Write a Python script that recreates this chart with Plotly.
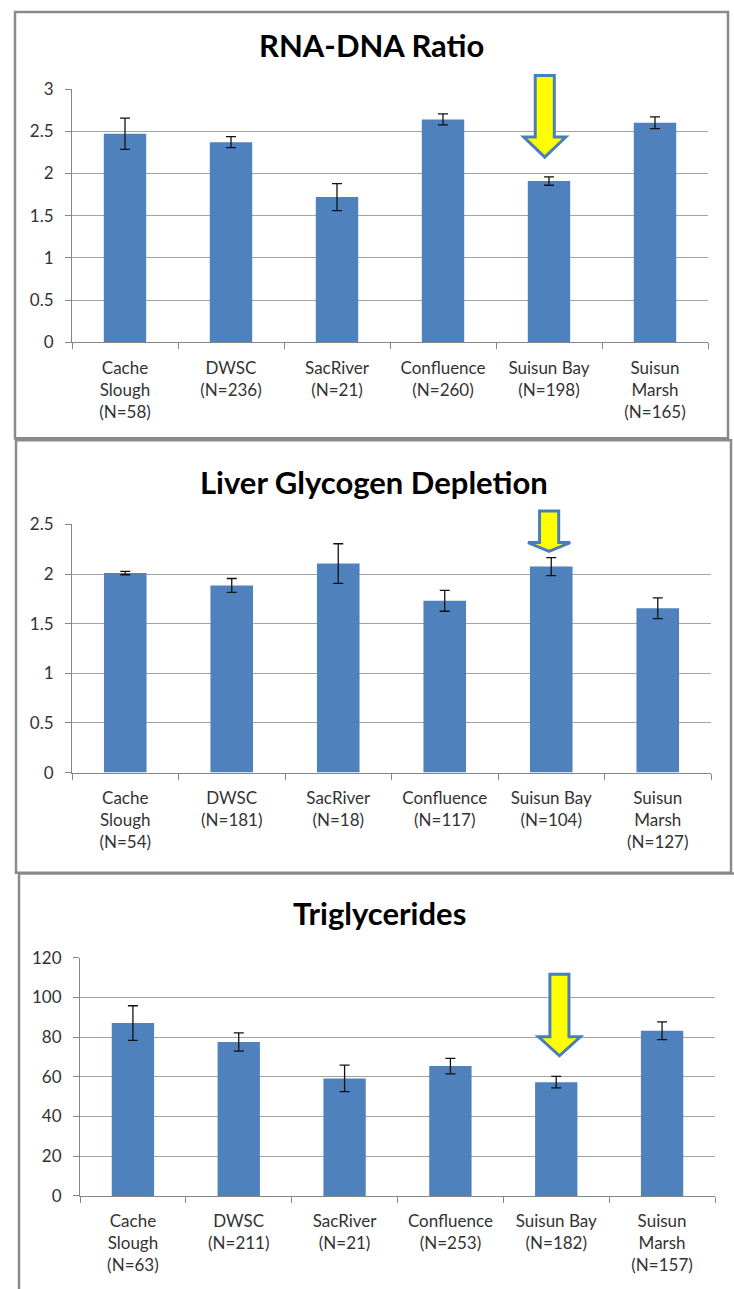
import plotly.graph_objects as go

# data
sites = ["Cache<br>Slough", "DWSC", "SacRiver", "Confluence", "Suisun Bay", "Suisun<br>Marsh"]

rna_n = [58, 236, 21, 260, 198, 165]
rna_mean = [2.47, 2.37, 1.72, 2.64, 1.91, 2.60]
rna_err = [0.185, 0.065, 0.16, 0.065, 0.05, 0.07]

glyc_n = [54, 181, 18, 117, 104, 127]
glyc_mean = [2.01, 1.885, 2.105, 1.73, 2.075, 1.655]
glyc_err = [0.017, 0.07, 0.2, 0.105, 0.09, 0.105]

trig_n = [63, 211, 21, 253, 182, 157]
trig_mean = [87.1, 77.5, 59.2, 65.4, 57.3, 83.2]
trig_err = [8.7, 4.6, 6.7, 3.9, 2.9, 4.5]

W, H = 734, 1289
FONT = "Lato"
BAR = "#4F81BD"
GRID = "#a3a3a3"
AXIS = "#868686"

panels = [
    dict(title="RNA-DNA Ratio", n=rna_n, mean=rna_mean, err=rna_err,
         yrange=[0, 3], dtick=0.5, plot=(72, 708, 79.3, 336.7),
         frame=(15, 728, 1, 434.4), title_y=34.6,
         arrow=(3.96, 1.053, 0.810, 0.731)),
    dict(title="Liver Glycogen Depletion", n=glyc_n, mean=glyc_mean, err=glyc_err,
         yrange=[0, 2.5], dtick=0.5, plot=(72, 711, 521.9, 774.2),
         frame=(16, 731, 436.4, 875.9), title_y=479.1,
         arrow=(3.98, 1.054, 0.927, 0.891)),
    dict(title="Triglycerides", n=trig_n, mean=trig_mean, err=trig_err,
         yrange=[0, 120], dtick=20, plot=(80, 715, 962.4, 1204.5),
         frame=(19, 745, 876.9, 1340), title_y=916.6,
         arrow=(4.03, 0.931, 0.668, 0.588)),
]


def arrow_path(xc, top, base, tip, shaft=0.09, head=0.198):
    return (f"M {xc - shaft},{top} L {xc + shaft},{top} L {xc + shaft},{base} "
            f"L {xc + head},{base} L {xc},{tip} L {xc - head},{base} "
            f"L {xc - shaft},{base} Z")


fig = go.Figure()
shapes = []
annotations = []
layout = {}

for i, p in enumerate(panels, start=1):
    xa = "x" if i == 1 else f"x{i}"
    ya = "y" if i == 1 else f"y{i}"
    idx = list(range(len(sites)))
    labels = [f"{s}<br>(N={n})" for s, n in zip(sites, p["n"])]

    fig.add_trace(go.Bar(
        x=idx, y=p["mean"], xaxis=xa, yaxis=ya,
        marker=dict(color=BAR, line=dict(width=0)),
        error_y=dict(type="data", array=p["err"], visible=True,
                     color="#111111", thickness=1.3, width=5),
        showlegend=False, hoverinfo="skip",
    ))

    x0, x1, y0, y1 = p["plot"]
    xkey = "xaxis" if i == 1 else f"xaxis{i}"
    ykey = "yaxis" if i == 1 else f"yaxis{i}"
    layout[xkey] = dict(
        domain=[x0 / W, x1 / W], anchor=ya, range=[-0.5, 5.5],
        tickmode="array", tickvals=idx, ticktext=labels,
        ticks="", showgrid=False, zeroline=False,
        showline=True, linecolor=AXIS, linewidth=1,
        ticklabelstandoff=10,
        tickfont=dict(family=FONT, size=17, color="#333333"),
        minor=dict(tickmode="linear", tick0=-0.5, dtick=1, ticks="outside",
                   ticklen=6, tickcolor=AXIS, tickwidth=1, showgrid=False),
        fixedrange=True,
    )
    layout[ykey] = dict(
        domain=[1 - y1 / H, 1 - y0 / H], anchor=xa,
        range=p["yrange"], dtick=p["dtick"], tick0=0,
        showgrid=True, gridcolor=GRID, gridwidth=1, zeroline=False,
        showline=True, linecolor=AXIS, linewidth=1,
        ticks="outside", ticklen=6, tickcolor=AXIS,
        ticklabelstandoff=8,
        tickfont=dict(family=FONT, size=17, color="#333333"),
        fixedrange=True,
    )

    fx0, fx1, fy0, fy1 = p["frame"]
    shapes.append(dict(
        type="rect", xref="paper", yref="paper",
        x0=fx0 / W, x1=fx1 / W, y0=1 - fy1 / H, y1=1 - fy0 / H,
        line=dict(color="#8a8a8a", width=2.5), fillcolor="rgba(0,0,0,0)",
        layer="above",
    ))

    annotations.append(dict(
        text=f"<b>{p['title']}</b>", xref="paper", yref="paper",
        x=(fx0 + min(fx1, W + 6)) / 2 / W, y=1 - p["title_y"] / H,
        xanchor="center", yanchor="middle", showarrow=False,
        font=dict(family=FONT, size=31, color="#000000"),
    ))

    ax_, top, base, tip = p["arrow"]
    shapes.append(dict(
        type="path", xref=xa, yref=f"{ya} domain",
        path=arrow_path(ax_, top, base, tip),
        fillcolor="#FFFF00", line=dict(color="#4a7ebb", width=3),
        layer="above",
    ))

fig.update_layout(
    width=W, height=H,
    margin=dict(l=0, r=0, t=0, b=0),
    paper_bgcolor="white", plot_bgcolor="white",
    bargap=0.6,
    shapes=shapes, annotations=annotations,
    **layout,
)

# pin the chart to the top-left corner of the page
pin = ("document.body.style.margin='0';"
       "document.body.style.overflow='hidden';"
       "var d=document.getElementById('{plot_id}');"
       "d.style.position='fixed';d.style.top='0';d.style.left='0';")

fig.write_html("out.html", config={"displayModeBar": False}, post_script=pin)
